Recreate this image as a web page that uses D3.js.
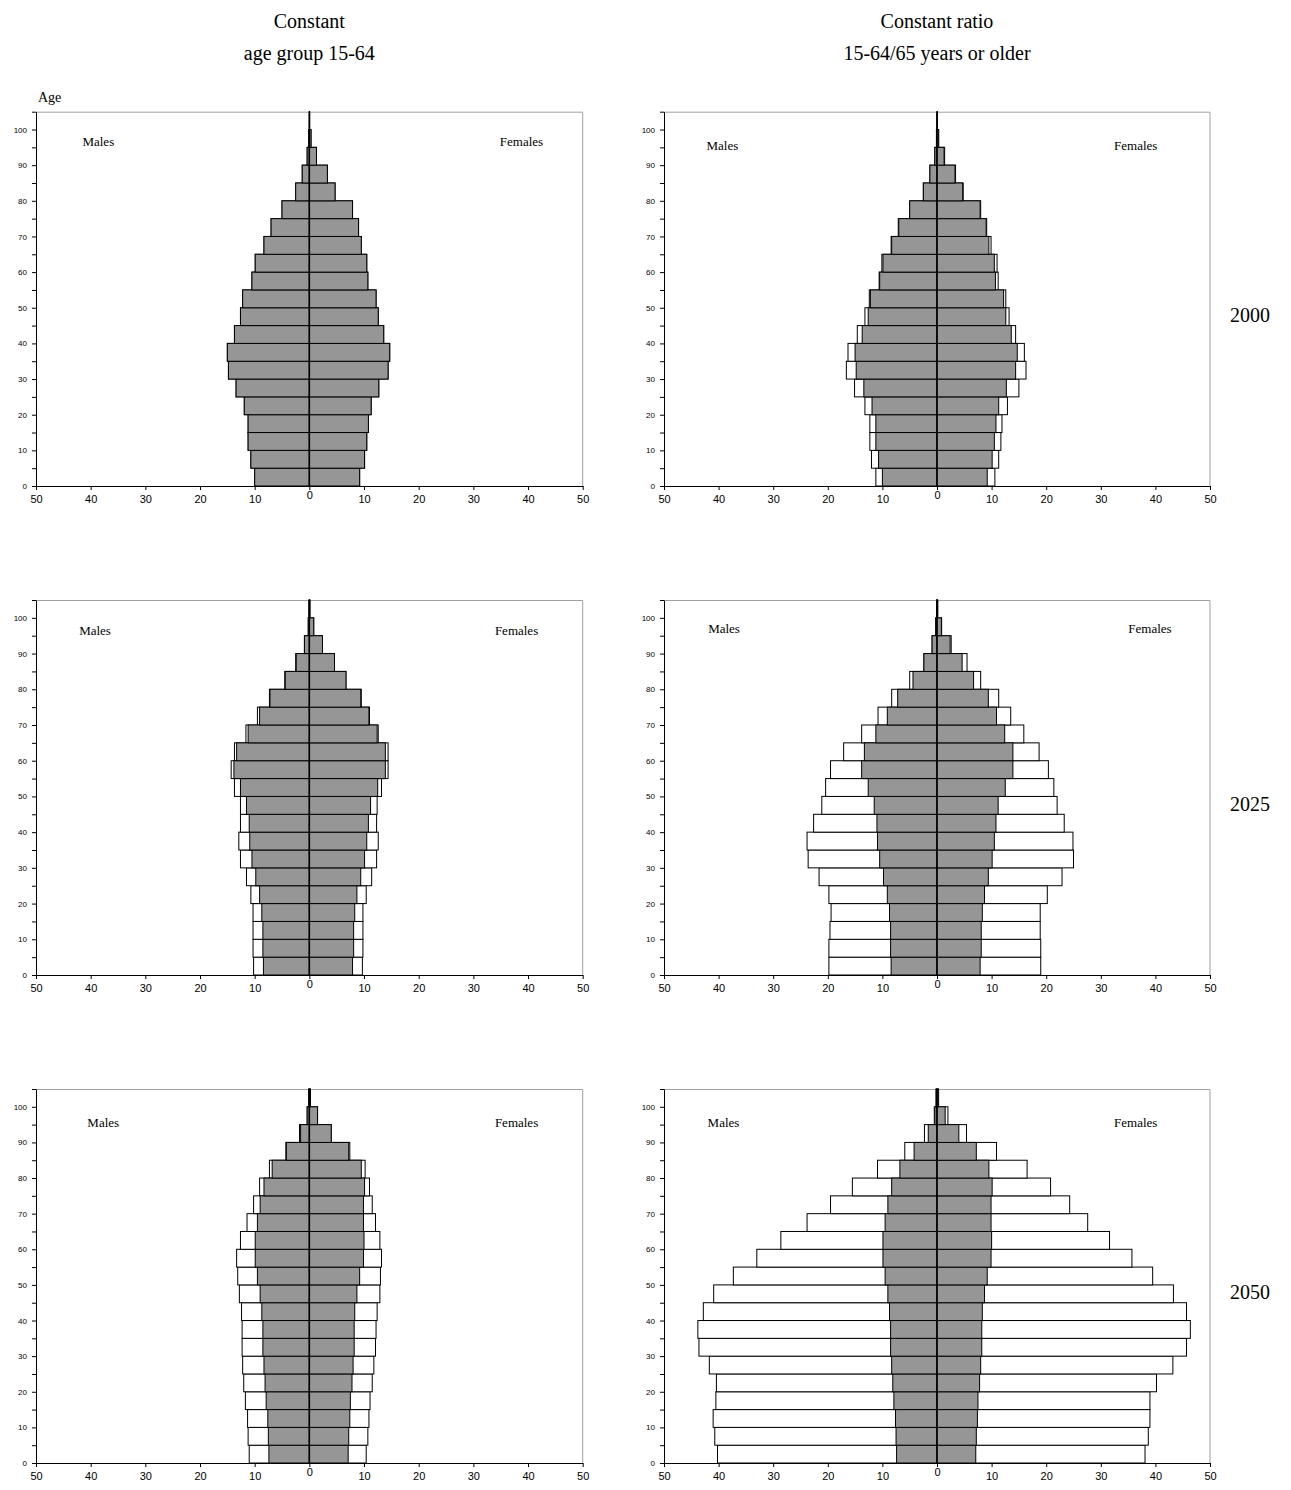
<!DOCTYPE html>
<html>
<head>
<meta charset="utf-8">
<script src="https://cdn.jsdelivr.net/npm/d3@7"></script>
<style>
    body { margin: 0; background: #fff; }
    .serif { font-family: "Liberation Serif", "Times New Roman", serif; fill: #000; }
    .axis text { font-family: "Liberation Sans", Arial, sans-serif; fill: #000; }
    .axis path, .axis line { stroke: #000; }
</style>
</head>
<body>
<svg id="chart" width="1291" height="1490"></svg>
<script>
// age groups: start of each 5-year band, last one is 100+
const ageStart = [0, 5, 10, 15, 20, 25, 30, 35, 40, 45, 50, 55, 60, 65, 70, 75, 80, 85, 90, 95, 100];

const years = ["2000", "2025", "2050"];
const columnTitles = [
    ["Constant", "age group 15-64"],
    ["Constant ratio", "15-64/65 years or older"]
];
const xTickValues = [-50, -40, -30, -20, -10, 0, 10, 20, 30, 40, 50];

// grey bars: population without the extra migration (same in both columns)
const base2000Males   = [10.0, 10.7, 11.2, 11.2, 11.9, 13.4, 14.8, 15.0, 13.7, 12.6, 12.2, 10.5, 9.9, 8.3, 7.0, 5.0, 2.5, 1.3, 0.4, 0.1, 0];
const base2000Females = [9.2, 10.1, 10.5, 10.8, 11.3, 12.7, 14.4, 14.7, 13.6, 12.6, 12.2, 10.7, 10.5, 9.5, 9.0, 7.9, 4.7, 3.3, 1.3, 0.3, 0.05];
const base2025Males   = [8.4, 8.5, 8.5, 8.7, 9.1, 9.8, 10.5, 10.9, 11.0, 11.5, 12.6, 13.8, 13.3, 11.2, 9.1, 7.2, 4.4, 2.4, 0.9, 0.2, 0.05];
const base2025Females = [7.9, 8.1, 8.1, 8.3, 8.7, 9.4, 10.1, 10.5, 10.8, 11.2, 12.5, 13.9, 13.9, 12.4, 10.9, 9.4, 6.7, 4.6, 2.4, 0.8, 0.1];
const base2050Males   = [7.4, 7.5, 7.6, 7.9, 8.1, 8.3, 8.5, 8.5, 8.7, 9.0, 9.5, 9.9, 9.9, 9.5, 9.0, 8.3, 6.8, 4.2, 1.6, 0.4, 0.1];
const base2050Females = [7.1, 7.2, 7.4, 7.5, 7.8, 8.0, 8.2, 8.2, 8.3, 8.7, 9.2, 9.9, 10.0, 9.9, 9.9, 10.1, 9.5, 7.2, 4.0, 1.5, 0.2];

// white bars: constant age group 15-64
const constAge2000Males   = [10.0, 10.7, 11.2, 11.2, 11.9, 13.4, 14.8, 15.0, 13.7, 12.6, 12.2, 10.5, 9.9, 8.3, 7.0, 5.0, 2.5, 1.3, 0.4, 0.1, 0];
const constAge2000Females = [9.2, 10.1, 10.5, 10.8, 11.3, 12.7, 14.4, 14.7, 13.6, 12.6, 12.2, 10.7, 10.5, 9.5, 9.0, 7.9, 4.7, 3.3, 1.3, 0.3, 0.05];
const constAge2025Males   = [10.2, 10.3, 10.3, 10.3, 10.7, 11.5, 12.6, 12.9, 12.6, 12.6, 13.7, 14.3, 13.7, 11.6, 9.5, 7.3, 4.5, 2.5, 0.9, 0.2, 0.05];
const constAge2025Females = [9.7, 9.8, 9.8, 9.8, 10.4, 11.4, 12.3, 12.6, 12.3, 12.4, 13.2, 14.4, 14.4, 12.6, 11.0, 9.5, 6.7, 4.6, 2.4, 0.8, 0.1];
const constAge2050Males   = [11.0, 11.2, 11.3, 11.7, 12.0, 12.2, 12.3, 12.3, 12.4, 12.8, 13.1, 13.3, 12.6, 11.4, 10.2, 9.1, 7.3, 4.3, 1.8, 0.4, 0.1];
const constAge2050Females = [10.4, 10.7, 10.9, 11.1, 11.5, 11.8, 12.1, 12.2, 12.4, 12.9, 13.0, 13.2, 12.9, 12.1, 11.5, 11.0, 10.2, 7.4, 4.0, 1.5, 0.2];

// white bars: constant ratio 15-64 / 65+
const constRatio2000Males   = [11.2, 12.0, 12.3, 12.3, 13.2, 15.1, 16.6, 16.3, 14.6, 13.2, 12.4, 10.6, 10.1, 8.4, 7.1, 5.0, 2.5, 1.3, 0.4, 0.1, 0];
const constRatio2000Females = [10.6, 11.3, 11.7, 11.9, 12.9, 15.0, 16.3, 16.0, 14.4, 13.2, 12.6, 11.2, 11.0, 9.9, 9.1, 8.0, 4.8, 3.4, 1.4, 0.3, 0.05];
const constRatio2025Males   = [19.8, 19.8, 19.6, 19.4, 19.8, 21.6, 23.6, 23.8, 22.6, 21.1, 20.4, 19.5, 17.1, 13.8, 10.8, 8.3, 5.0, 2.4, 0.9, 0.25, 0.05];
const constRatio2025Females = [19.0, 19.0, 18.9, 18.9, 20.2, 22.9, 25.0, 24.9, 23.3, 22.0, 21.4, 20.4, 18.7, 15.9, 13.5, 11.3, 8.0, 5.5, 2.6, 0.85, 0.15];
const constRatio2050Males   = [40.2, 40.7, 41.0, 40.5, 40.4, 41.7, 43.6, 43.8, 42.8, 40.9, 37.3, 33.0, 28.6, 23.8, 19.5, 15.5, 10.9, 5.9, 2.3, 0.5, 0.2];
const constRatio2050Females = [38.1, 38.7, 39.0, 39.0, 40.2, 43.2, 45.7, 46.4, 45.7, 43.3, 39.5, 35.7, 31.6, 27.6, 24.3, 20.8, 16.5, 10.9, 5.4, 2.0, 0.3];

const panels = [
    { row: 0, col: 0, baseM: base2000Males, baseF: base2000Females, scenM: constAge2000Males,   scenF: constAge2000Females,   lab: { m: -38.6, f: 38.8, dy: 34 } },
    { row: 0, col: 1, baseM: base2000Males, baseF: base2000Females, scenM: constRatio2000Males, scenF: constRatio2000Females, lab: { m: -39.3, f: 36.4, dy: 38 } },
    { row: 1, col: 0, baseM: base2025Males, baseF: base2025Females, scenM: constAge2025Males,   scenF: constAge2025Females,   lab: { m: -39.2, f: 37.9, dy: 35 } },
    { row: 1, col: 1, baseM: base2025Males, baseF: base2025Females, scenM: constRatio2025Males, scenF: constRatio2025Females, lab: { m: -39.0, f: 39.0, dy: 33 } },
    { row: 2, col: 0, baseM: base2050Males, baseF: base2050Females, scenM: constAge2050Males,   scenF: constAge2050Females,   lab: { m: -37.7, f: 37.9, dy: 38 } },
    { row: 2, col: 1, baseM: base2050Males, baseF: base2050Females, scenM: constRatio2050Males, scenF: constRatio2050Females, lab: { m: -39.1, f: 36.4, dy: 38 } }
];

// plot-area frames
const cols = [{ x0: 36, x1: 582.7 }, { x0: 664, x1: 1210 }];
const rows = [{ y0: 111.7, y1: 486 }, { y0: 600, y1: 975 }, { y0: 1089, y1: 1463 }];

const svg = d3.select("#chart");

columnTitles.forEach((lines, i) => {
    const cx = (cols[i].x0 + cols[i].x1) / 2;
    lines.forEach((t, j) => {
        svg.append("text")
            .attr("class", "serif")
            .attr("x", cx)
            .attr("y", 28 + j * 32)
            .attr("text-anchor", "middle")
            .style("font-size", "20px")
            .text(t);
    });
});

years.forEach((yr, i) => {
    svg.append("text")
        .attr("class", "serif")
        .attr("x", 1250)
        .attr("y", (rows[i].y0 + rows[i].y1) / 2 + 23)
        .attr("text-anchor", "middle")
        .style("font-size", "20px")
        .text(yr);
});

svg.append("text")
    .attr("class", "serif")
    .attr("x", 38)
    .attr("y", 102)
    .style("font-size", "14px")
    .text("Age");

panels.forEach(p => drawPanel(p));

function drawPanel(p) {
    const c = cols[p.col], r = rows[p.row];
    const w = c.x1 - c.x0, h = r.y1 - r.y0;

    const x = d3.scaleLinear().domain([-50, 50]).range([0, w]);
    const y = d3.scaleLinear().domain([0, 105]).range([h, 0]);

    const g = svg.append("g").attr("transform", `translate(${c.x0},${r.y0})`);

    // light frame on top and right
    g.append("path")
        .attr("d", `M0,0.5H${w}V${h}`)
        .attr("fill", "none")
        .attr("stroke", "#a0a0a0");

    const rowsData = ageStart.map((a, i) => ({
        a,
        bm: p.baseM[i], bf: p.baseF[i],
        sm: p.scenM[i], sf: p.scenF[i]
    }));

    const bandTop = d => y(d.a + 5);
    const bandH = d => y(d.a) - y(d.a + 5);

    // white bars first, grey bars on top
    const layers = [
        { fill: "#ffffff", m: d => d.sm, f: d => d.sf },
        { fill: "#969696", m: d => d.bm, f: d => d.bf }
    ];
    layers.forEach(L => {
        g.selectAll(null).data(rowsData.filter(d => L.m(d) > 0))
            .join("rect")
            .attr("x", d => x(-L.m(d)))
            .attr("y", bandTop)
            .attr("width", d => x(0) - x(-L.m(d)))
            .attr("height", bandH)
            .attr("fill", L.fill)
            .attr("stroke", "#000")
            .attr("stroke-width", 1);
        g.selectAll(null).data(rowsData.filter(d => L.f(d) > 0))
            .join("rect")
            .attr("x", x(0))
            .attr("y", bandTop)
            .attr("width", d => x(L.f(d)) - x(0))
            .attr("height", bandH)
            .attr("fill", L.fill)
            .attr("stroke", "#000")
            .attr("stroke-width", 1);
    });

    // centre line
    g.append("line")
        .attr("x1", x(0)).attr("x2", x(0))
        .attr("y1", 0).attr("y2", h)
        .attr("stroke", "#000")
        .attr("stroke-width", 1.5);

    const yAxis = d3.axisLeft(y)
        .tickValues(d3.range(0, 106, 5))
        .tickFormat(v => v % 10 === 0 ? v : "")
        .tickSize(4)
        .tickSizeOuter(0)
        .tickPadding(5);

    g.append("g").attr("class", "axis").call(yAxis)
        .selectAll("text").style("font-size", "8px");

    const xAxis = d3.axisBottom(x)
        .tickValues(xTickValues)
        .tickFormat(v => Math.abs(v))
        .tickSize(4)
        .tickSizeOuter(0)
        .tickPadding(5);

    const xg = g.append("g").attr("class", "axis")
        .attr("transform", `translate(0,${h})`)
        .call(xAxis);
    xg.selectAll("text").style("font-size", "11px");
    xg.selectAll(".tick").filter(v => v === 0).select("text").attr("y", 5);

    g.append("text")
        .attr("class", "serif")
        .attr("x", x(p.lab.m))
        .attr("y", p.lab.dy)
        .attr("text-anchor", "middle")
        .style("font-size", "13px")
        .text("Males");

    g.append("text")
        .attr("class", "serif")
        .attr("x", x(p.lab.f))
        .attr("y", p.lab.dy)
        .attr("text-anchor", "middle")
        .style("font-size", "13px")
        .text("Females");
}
</script>
</body>
</html>
